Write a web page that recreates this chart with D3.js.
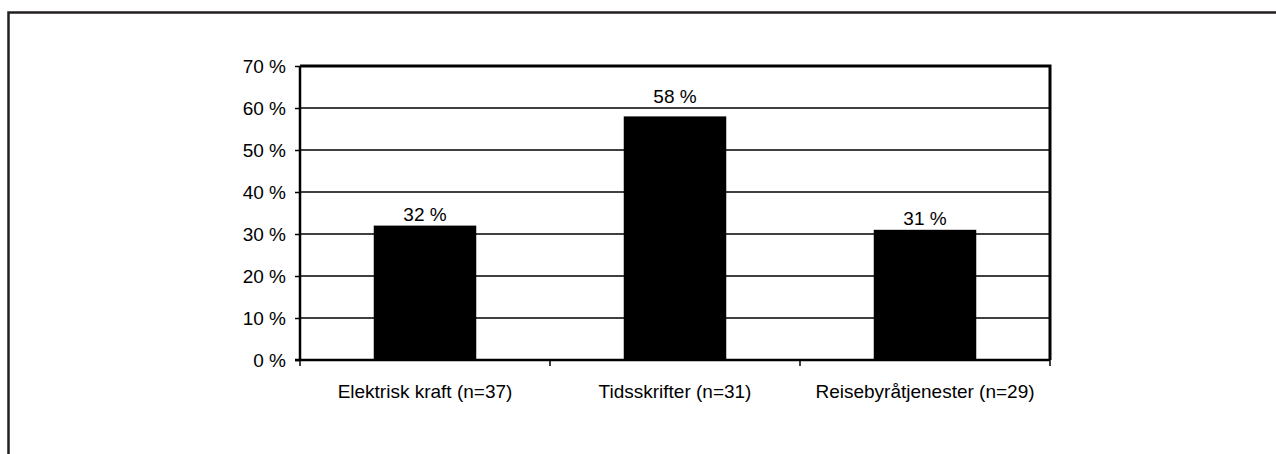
<!DOCTYPE html>
<html>
<head>
<meta charset="utf-8">
<script src="https://cdn.jsdelivr.net/npm/d3@7"></script>
<style>
  html, body { margin: 0; padding: 0; background: #fff; }
  svg { display: block; }
  text { font-family: "Liberation Sans", Arial, sans-serif; fill: #000; }
</style>
</head>
<body>
<svg id="chart" width="1276" height="454"></svg>
<script>
// Andel per bransje
const categories = ["Elektrisk kraft (n=37)", "Tidsskrifter (n=31)", "Reisebyråtjenester (n=29)"];
const values = [32, 58, 31];
const yTicks = [0, 10, 20, 30, 40, 50, 60, 70];

const svg = d3.select("#chart");
const W = 1276, H = 454;
const FS = 19;

// Outer frame (runs off the right and bottom edges)
svg.append("path")
  .attr("d", `M8.5,${H + 5}V12.5H${W + 5}`)
  .attr("fill", "none")
  .attr("stroke", "#231f20")
  .attr("stroke-width", 2.5);

const plot = { left: 300, right: 1050, top: 66, bottom: 360 };

const x = d3.scaleBand()
  .domain(categories)
  .range([plot.left, plot.right])
  .paddingInner(0.59)
  .paddingOuter(0.295);

const y = d3.scaleLinear()
  .domain([0, 70])
  .range([plot.bottom, plot.top]);

const fmt = d => d + " %";
const gridTicks = yTicks.filter(t => t > 0 && t < 70);

// Horizontal gridlines
svg.append("g")
  .selectAll("line")
  .data(gridTicks)
  .join("line")
  .attr("x1", plot.left).attr("x2", plot.right)
  .attr("y1", d => y(d)).attr("y2", d => y(d))
  .attr("stroke", "#000")
  .attr("stroke-width", 1.4);

// Bars
svg.append("g")
  .selectAll("rect")
  .data(values)
  .join("rect")
  .attr("x", (d, i) => x(categories[i]))
  .attr("width", x.bandwidth())
  .attr("y", d => y(d))
  .attr("height", d => y(0) - y(d))
  .attr("fill", "#000");

// Value labels: sit just above the bar, lifted over a gridline if they would cross it
const labelGap = 5, capHeight = FS * 0.72;
function labelBaseline(v) {
  let base = y(v) - labelGap;
  const hit = gridTicks.find(t => y(t) < base && y(t) > base - capHeight);
  if (hit !== undefined) base = y(hit) - labelGap;
  return base;
}
svg.append("g")
  .selectAll("text")
  .data(values)
  .join("text")
  .attr("x", (d, i) => x(categories[i]) + x.bandwidth() / 2)
  .attr("y", labelBaseline)
  .attr("text-anchor", "middle")
  .attr("font-size", FS)
  .text(fmt);

// Top and right border of the plot area
svg.append("path")
  .attr("d", `M${plot.left},${plot.top}H${plot.right}V${plot.bottom}`)
  .attr("fill", "none")
  .attr("stroke", "#000")
  .attr("stroke-width", 3);

// Y axis
const yAxis = svg.append("g")
  .attr("transform", `translate(${plot.left},0)`)
  .call(d3.axisLeft(y).tickValues(yTicks).tickFormat(fmt).tickSize(5).tickPadding(9));
yAxis.select(".domain").attr("stroke", "#000").attr("stroke-width", 2.5)
  .attr("d", `M0,${plot.bottom}V${plot.top}`);
yAxis.selectAll(".tick line").attr("stroke", "#000").attr("stroke-width", 1.5);
yAxis.selectAll(".tick text")
  .attr("font-size", FS)
  .attr("font-family", "Liberation Sans, Arial, sans-serif")
  .attr("fill", "#000");

// X axis with category separators
const sepScale = d3.scaleLinear().domain([0, categories.length]).range([plot.left, plot.right]);
const xAxis = svg.append("g")
  .attr("transform", `translate(0,${plot.bottom})`);
xAxis.append("line")
  .attr("x1", plot.left - 5).attr("x2", plot.right)
  .attr("stroke", "#000").attr("stroke-width", 2.5);
xAxis.selectAll(".sep")
  .data(d3.range(categories.length + 1))
  .join("line")
  .attr("class", "sep")
  .attr("x1", d => sepScale(d)).attr("x2", d => sepScale(d))
  .attr("y1", 0).attr("y2", 6)
  .attr("stroke", "#000").attr("stroke-width", 1.5);
xAxis.selectAll("text")
  .data(categories)
  .join("text")
  .attr("x", d => x(d) + x.bandwidth() / 2)
  .attr("y", 38)
  .attr("text-anchor", "middle")
  .attr("font-size", FS)
  .text(d => d);
</script>
</body>
</html>
